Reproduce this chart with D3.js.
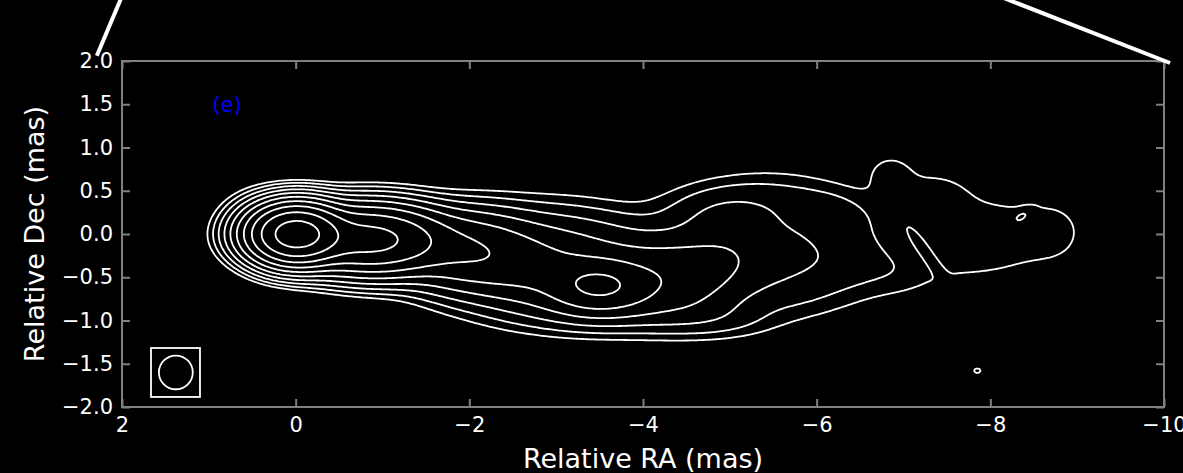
<!DOCTYPE html>
<meta charset="utf-8">
<style>
  body { margin: 0; background: #000; }
  svg { display: block; background: #000; }
  text { font-family: "DejaVu Sans", sans-serif; fill: #fff; }
  .contours path { fill: none; stroke: #fff; stroke-width: 1.8px; stroke-linejoin: round; }
  .axis line { stroke: #808080; stroke-width: 2px; }
  .axis path { display: none; }
</style>
<svg width="1183" height="473"></svg>
<script src="https://d3js.org/d3.v7.min.js"></script>
<script>
var svg = d3.select("svg");

// ticks
var raTicks  = [2, 0, -2, -4, -6, -8, -10];
var decTicks = [-2, -1.5, -1, -0.5, 0, 0.5, 1, 1.5, 2];

// contour levels (multiples of the lowest one)
var levels = [1, 2, 4, 8, 16, 32, 64, 128, 256, 512];

// gaussian brightness components:
// [ra, dec, peak, sigma along axis, sigma across axis, axis angle in degrees]
var components = [
  [ 0.00,  0.00, 720, 0.267, 0.17],
  [ 0.45,  0.20, 1.5, 0.25, 0.20],
  [-0.50, -0.03,  40, 0.50, 0.19],
  [-0.90, -0.07, 130, 0.45, 0.21],
  [-2.00, -0.20,  26, 0.45, 0.26],
  [-2.70, -0.45,   7, 0.40, 0.22],
  [-3.00, -0.28,  11, 0.70, 0.33],
  [-3.50, -0.60,  28, 0.35, 0.18],
  [-3.60, -0.85,   4, 0.80, 0.20],
  [-4.35, -0.50,  10, 0.45, 0.28],
  [-4.90, -1.00, 1.5, 0.45, 0.15],
  [-5.00, -0.25,   5, 0.40, 0.30],
  [-5.80, -0.27, 3.5, 0.45, 0.35],
  [-5.70, -0.75, 0.6, 0.45, 0.18],
  [-6.50, -0.30, 1.55, 0.35, 0.30],
  [-7.00, -0.45, 1.0, 0.30, 0.20],
  [-4.85,  0.25, 2.6, 0.45, 0.22],
  [-5.50,  0.42, 1.8, 0.50, 0.22],
  [-6.20,  0.25, 1.6, 0.35, 0.20],
  [-6.85,  0.70, 1.5, 0.18, 0.15],
  [-6.95,  0.20, 0.7, 0.30, 0.25],
  [-7.35,  0.45, 1.3, 0.30, 0.20],
  [-7.50, -0.08, 1.05, 0.30, 0.33],
  [-7.90, -0.06, 1.05, 0.30, 0.33],
  [-8.30, -0.02, 1.05, 0.30, 0.31],
  [-8.75,  0.02, 1.3, 0.25, 0.25],
  [-8.37,  0.22, 0.8, 0.10, 0.05, -30],
  [-7.30, -0.28, -1.8, 0.25, 0.04, 55],
  [-7.85, -1.58, 1.15, 0.07, 0.05]
];

// restoring beam (FWHM, mas) and its box
var beamCentre = [1.38, -1.60];
var beamFwhm = 0.39;
var beamBox = [1.666, -1.318, 1.102, -1.884];

// zoom connector lines from the parent panel
var connectors = [
  [[2.29, 2.06], [2.00, 2.75]],
  [[-8.10, 2.75], [-10.07, 1.977]]
];

var panelLabel = "(e)";

var x = d3.scaleLinear().domain([2, -10]).range([122, 1164]);
var y = d3.scaleLinear().domain([-2, 2]).range([407, 61]);

// brightness grid
var step = 0.02, ra0 = 2, dec0 = 2;
var nx = Math.round(12 / step) + 1, ny = Math.round(4 / step) + 1;
var values = new Float64Array(nx * ny);
var comps = components.map(c => {
  var a = (c[5] || 0) * Math.PI / 180;
  return {ra: c[0], dec: c[1], peak: c[2], s1: c[3], s2: c[4], cos: Math.cos(a), sin: Math.sin(a)};
});
for (var j = 0; j < ny; j++) {
  var dec = dec0 - j * step;
  for (var i = 0; i < nx; i++) {
    var ra = ra0 - i * step, v = 0;
    comps.forEach(c => {
      var dr = ra - c.ra, dd = dec - c.dec;
      var u = (dr * c.cos + dd * c.sin) / c.s1, w = (-dr * c.sin + dd * c.cos) / c.s2;
      v += c.peak * Math.exp(-0.5 * (u * u + w * w));
    });
    values[j * nx + i] = v;
  }
}

var contours = d3.contours().size([nx, ny]).thresholds(levels)(values);
var toPixels = d3.geoTransform({
  point: function(gx, gy) {
    this.stream.point(x(ra0 - (gx - 0.5) * step), y(dec0 - (gy - 0.5) * step));
  }
});

svg.append("clipPath").attr("id", "plot")
   .append("rect").attr("x", x(2)).attr("y", y(2))
   .attr("width", x(-10) - x(2)).attr("height", y(-2) - y(2));

svg.append("g").attr("class", "contours").attr("clip-path", "url(#plot)")
   .selectAll("path").data(contours).enter().append("path")
   .attr("d", d3.geoPath(toPixels));

// axes, ticks pointing inward on all four sides
var fmtX = d3.format("d"), fmtY = d3.format(".1f");
svg.append("g").attr("class", "axis").attr("transform", "translate(0," + y(-2) + ")")
   .call(d3.axisBottom(x).tickValues(raTicks).tickSizeInner(-8).tickSizeOuter(0).tickPadding(10).tickFormat(fmtX));
svg.append("g").attr("class", "axis").attr("transform", "translate(0," + y(2) + ")")
   .call(d3.axisTop(x).tickValues(raTicks).tickSizeInner(-8).tickSizeOuter(0).tickFormat(""));
svg.append("g").attr("class", "axis").attr("transform", "translate(" + x(2) + ",0)")
   .call(d3.axisLeft(y).tickValues(decTicks).tickSizeInner(-8).tickSizeOuter(0).tickPadding(9).tickFormat(fmtY));
svg.append("g").attr("class", "axis").attr("transform", "translate(" + x(-10) + ",0)")
   .call(d3.axisRight(y).tickValues(decTicks).tickSizeInner(-8).tickSizeOuter(0).tickFormat(""));
svg.selectAll(".axis text").attr("fill", "#fff").style("font-size", "21px")
   .style("font-family", "DejaVu Sans, sans-serif");

svg.append("rect").attr("x", x(2)).attr("y", y(2))
   .attr("width", x(-10) - x(2)).attr("height", y(-2) - y(2))
   .attr("fill", "none").attr("stroke", "#808080").attr("stroke-width", 2);

// beam
svg.append("rect")
   .attr("x", x(beamBox[0])).attr("y", y(beamBox[1]))
   .attr("width", x(beamBox[2]) - x(beamBox[0])).attr("height", y(beamBox[3]) - y(beamBox[1]))
   .attr("fill", "none").attr("stroke", "#fff").attr("stroke-width", 1.8);
svg.append("ellipse")
   .attr("cx", x(beamCentre[0])).attr("cy", y(beamCentre[1]))
   .attr("rx", x(0) - x(beamFwhm / 2)).attr("ry", y(0) - y(beamFwhm / 2))
   .attr("fill", "none").attr("stroke", "#fff").attr("stroke-width", 1.8);

svg.append("text").attr("x", x(0.96)).attr("y", y(1.5)).attr("dy", "0.35em")
   .style("font-size", "21px").style("fill", "#0000ff").text(panelLabel);

svg.selectAll(".conn").data(connectors).enter().append("line")
   .attr("x1", d => x(d[0][0])).attr("y1", d => y(d[0][1]))
   .attr("x2", d => x(d[1][0])).attr("y2", d => y(d[1][1]))
   .attr("stroke", "#fff").attr("stroke-width", 4);

svg.append("text").attr("x", (x(2) + x(-10)) / 2).attr("y", 468)
   .attr("text-anchor", "middle").style("font-size", "27px").text("Relative RA (mas)");
svg.append("text").attr("transform", "translate(44," + y(0) + ") rotate(-90)")
   .attr("text-anchor", "middle").style("font-size", "27px").text("Relative Dec (mas)");
</script>
